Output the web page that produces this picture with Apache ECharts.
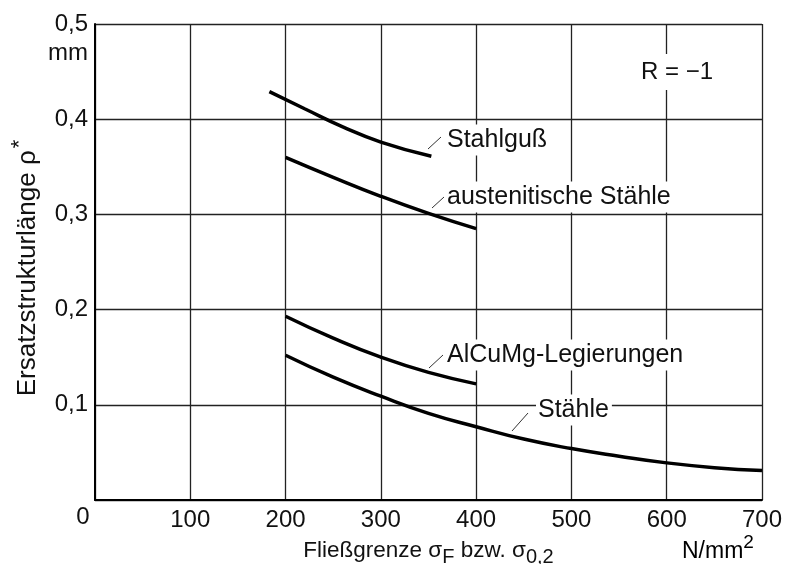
<!DOCTYPE html>
<html><head><meta charset="utf-8">
<script src="https://cdn.jsdelivr.net/npm/echarts@6/dist/echarts.min.js"></script>
<style>html,body{margin:0;padding:0;background:#fff}#c{width:788px;height:564px}</style>
</head><body><div id="c"></div>
<script>
// ---- data ----
var xTicks = [0, 100, 200, 300, 400, 500, 600, 700];
var yTicks = [0.1, 0.2, 0.3, 0.4, 0.5];

var stahlgussX = [183, 220, 260, 300, 353];
var stahlgussY = [0.429, 0.411, 0.392, 0.376, 0.361];

var austenitX = [200, 250, 300, 350, 400];
var austenitY = [0.360, 0.339, 0.319, 0.301, 0.285];

var alcumgX = [200, 250, 300, 350, 400];
var alcumgY = [0.193, 0.170, 0.150, 0.134, 0.122];

var staehleX = [200, 250, 300, 350, 400, 450, 500, 550, 600, 650, 700];
var staehleY = [0.152, 0.129, 0.109, 0.091, 0.077, 0.064, 0.054, 0.046, 0.039, 0.034, 0.031];

var seriesNames = ['Stahlguß', 'austenitische Stähle', 'AlCuMg-Legierungen', 'Stähle'];
var annotation = 'R = −1';

// ---- chart ----
function pairs(xs, ys) { return xs.map(function (x, i) { return [x, ys[i]]; }); }
var FONT = '"Liberation Sans", Arial, Helvetica, sans-serif';
var INK = '#111';

var chart = echarts.init(document.getElementById('c'), null, { renderer: 'canvas' });

var curves = [
  pairs(stahlgussX, stahlgussY),
  pairs(austenitX, austenitY),
  pairs(alcumgX, alcumgY),
  pairs(staehleX, staehleY)
];

var series = curves.map(function (d, i) {
  return {
    name: seriesNames[i], type: 'line', data: d, smooth: 0.5, symbol: 'none',
    lineStyle: { color: '#000', width: 3.5 }, z: 5
  };
});

// label placements (pixel layout of annotations)
var labelPos = [[445, 140], [445, 197], [445, 355], [536, 410]];
var leaders = [
  [428, 149, 441, 137],
  [432, 208, 444, 197],
  [429, 368, 443, 355],
  [512, 431, 528, 413]
];

var graphics = [];
seriesNames.forEach(function (n, i) {
  graphics.push({
    type: 'text', z: 2,
    style: {
      text: n, x: labelPos[i][0], y: labelPos[i][1], verticalAlign: 'middle', align: 'left',
      font: '25px ' + FONT, fill: INK, backgroundColor: '#fff', padding: [3, 3, 3, 2]
    }
  });
  var l = leaders[i];
  graphics.push({
    type: 'line', z: 2,
    shape: { x1: l[0], y1: l[1], x2: l[2], y2: l[3] },
    style: { stroke: '#333', lineWidth: 1 }
  });
});
graphics.push({
  type: 'text', z: 2,
  style: { text: annotation, x: 637, y: 72, verticalAlign: 'middle', align: 'left',
    font: '24px ' + FONT, fill: INK, backgroundColor: '#fff', padding: [6, 4, 6, 4] }
});
graphics.push({
  type: 'text', z: 2,
  style: { text: '0', x: 83, y: 517, verticalAlign: 'middle', align: 'center', font: '24px ' + FONT, fill: INK }
});
graphics.push({
  type: 'text', z: 2,
  style: { text: 'mm', x: 88, y: 53, verticalAlign: 'middle', align: 'right', font: '24px ' + FONT, fill: INK }
});
graphics.push({
  type: 'text', z: 2,
  style: {
    text: '{a|N/mm}{p|2}', x: 682, y: 548, verticalAlign: 'middle', align: 'left',
    rich: {
      a: { fontSize: 23, fontFamily: FONT, color: INK, lineHeight: 30, verticalAlign: 'bottom' },
      p: { fontSize: 19, fontFamily: FONT, color: INK, lineHeight: 30, verticalAlign: 'top' }
    }
  }
});

chart.setOption({
  animation: false,
  backgroundColor: '#fff',
  grid: { left: 95, right: 26, top: 24, bottom: 64, containLabel: false, outerBoundsMode: 'none' },
  xAxis: {
    type: 'value', min: xTicks[0], max: xTicks[xTicks.length - 1], interval: 100,
    axisLine: { show: true, onZero: false, lineStyle: { color: '#000', width: 2 } },
    axisTick: { show: false },
    splitLine: { show: true, lineStyle: { color: '#222', width: 1.3 } },
    axisLabel: {
      margin: 8, fontSize: 24, fontFamily: FONT, color: INK,
      formatter: function (v) { return v === 0 ? '' : String(v); }
    },
    name: '{a|Fließgrenze σ}{s|F}{a| bzw. σ}{s|0,2}',
    nameLocation: 'middle', nameGap: 39,
    nameTextStyle: {
      rich: {
        a: { fontSize: 22.5, fontFamily: FONT, color: INK, lineHeight: 28, verticalAlign: 'top' },
        s: { fontSize: 20, fontFamily: FONT, color: INK, lineHeight: 28, verticalAlign: 'bottom' }
      }
    }
  },
  yAxis: {
    type: 'value', min: 0, max: yTicks[yTicks.length - 1], interval: 0.1,
    axisLine: { show: true, onZero: false, lineStyle: { color: '#000', width: 2 } },
    axisTick: { show: false },
    splitLine: { show: true, lineStyle: { color: '#222', width: 1.3 } },
    axisLabel: {
      margin: 7, fontSize: 24, fontFamily: FONT, color: INK,
      formatter: function (v) {
        var r = Math.round(v * 10) / 10;
        return yTicks.indexOf(r) >= 0 ? r.toFixed(1).replace('.', ',') : '';
      }
    },
    name: '{a|Ersatzstrukturlänge ρ}{s|*}',
    nameLocation: 'middle', nameGap: 54, nameRotate: 90,
    nameTextStyle: {
      padding: [0, 12, 0, 0],
      rich: {
        a: { fontSize: 26, fontFamily: FONT, color: INK, lineHeight: 32, verticalAlign: 'bottom' },
        s: { fontSize: 22, fontFamily: FONT, color: INK, lineHeight: 32, verticalAlign: 'top', padding: [0, 0, 0, 2] }
      }
    }
  },
  series: series,
  graphic: graphics
});
</script>
</body></html>
